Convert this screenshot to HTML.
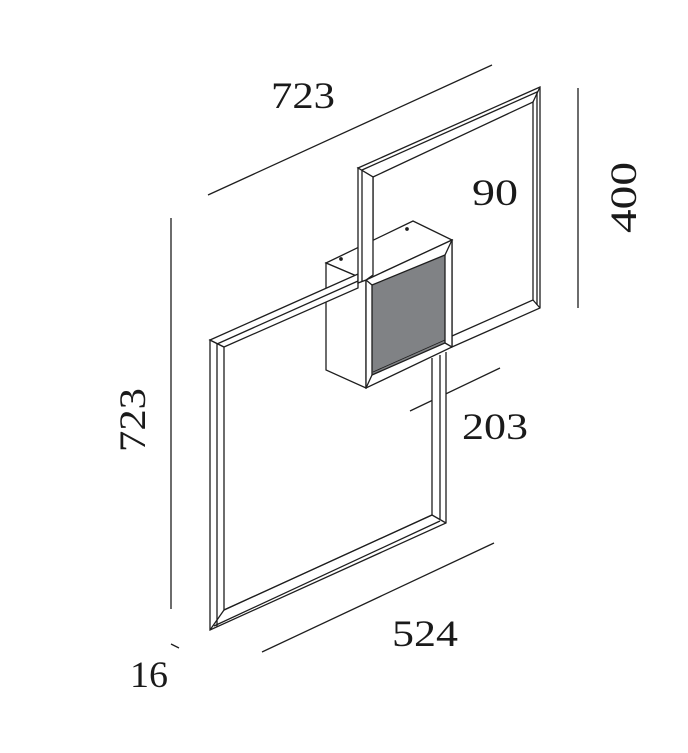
<!DOCTYPE html>
<html><head><meta charset="utf-8"><style>
html,body{margin:0;padding:0;background:#fff;}
svg{display:block;}
text{font-family:"Liberation Serif",serif;font-size:37px;fill:#1a1a1a;}
</style></head><body>
<svg width="688" height="753" viewBox="0 0 688 753" xmlns="http://www.w3.org/2000/svg">
<g stroke="#1e1e1e" stroke-width="1.3" fill="none" stroke-linejoin="miter">
<line x1="208" y1="195" x2="492" y2="65"/>
<line x1="578" y1="88" x2="578" y2="308"/>
<line x1="448" y1="200" x2="488" y2="219"/>
<line x1="410" y1="411" x2="500" y2="368"/>
<line x1="171" y1="218" x2="171" y2="609"/>
<line x1="262" y1="652" x2="494" y2="543"/>
<line x1="171" y1="644" x2="179" y2="648"/>

<path d="M358,168 L540,87 L540,308 L452,347 L452,240 L373,275 L373,177 Z" fill="#fff"/>
<path d="M373,177 L533,102 L533,300 L452,336"/>
<path d="M362,170 L537,92 L537,305"/>
<line x1="540" y1="87" x2="533" y2="102"/>
<line x1="540" y1="308" x2="533" y2="300"/>

<path d="M446,352 L446,523 L210,630 L210,340 L224,347 L224,610 L432,515 L432,358" fill="#fff"/>
<path d="M440,355 L440,519"/>
<path d="M217,344 L217,627"/>
<line x1="446" y1="523" x2="432" y2="515"/>
<line x1="210" y1="630" x2="224" y2="610"/>
<path d="M224,610 L432,515" />
<path d="M214,626 L440,521"/>

<path d="M326,263 L413,221 L452,240 L366,280 Z" fill="#fff"/>
<path d="M326,263 L366,280 L366,388 L326,370 Z" fill="#fff"/>
<path d="M366,280 L452,240 L452,347 L366,388 Z" fill="#fff"/>
<path d="M372,285 L445,255 L445,343 L372,375 Z" fill="#808285"/>
<line x1="366" y1="280" x2="372" y2="285"/>
<line x1="452" y1="240" x2="445" y2="255"/>
<line x1="452" y1="347" x2="445" y2="343"/>
<line x1="366" y1="388" x2="372" y2="375"/>
<line x1="373" y1="372" x2="445" y2="340" stroke-width="0.8"/>
<circle cx="407" cy="229" r="1.2" fill="#1e1e1e"/>
<circle cx="341" cy="259" r="1.2" fill="#1e1e1e"/>

<path d="M210,340 L358,274 L358,288 L224,347 Z" fill="#fff"/>
<line x1="217" y1="344" x2="358" y2="281"/>

<path d="M358,168 L373,177 L373,275 L366,280 L358,283 Z" fill="#fff"/>
<line x1="362" y1="170" x2="362" y2="281"/>
</g>

<text x="271" y="108" textLength="64" lengthAdjust="spacingAndGlyphs">723</text>
<text x="472" y="205" textLength="46" lengthAdjust="spacingAndGlyphs">90</text>
<text x="462" y="439" textLength="66" lengthAdjust="spacingAndGlyphs">203</text>
<text x="392" y="646" textLength="66" lengthAdjust="spacingAndGlyphs">524</text>
<text x="130" y="687" textLength="38" lengthAdjust="spacingAndGlyphs">16</text>
<text transform="translate(636,233) rotate(-90)" textLength="71" lengthAdjust="spacingAndGlyphs">400</text>
<text transform="translate(145,452) rotate(-90)" textLength="64" lengthAdjust="spacingAndGlyphs">723</text>
</svg>
</body></html>
